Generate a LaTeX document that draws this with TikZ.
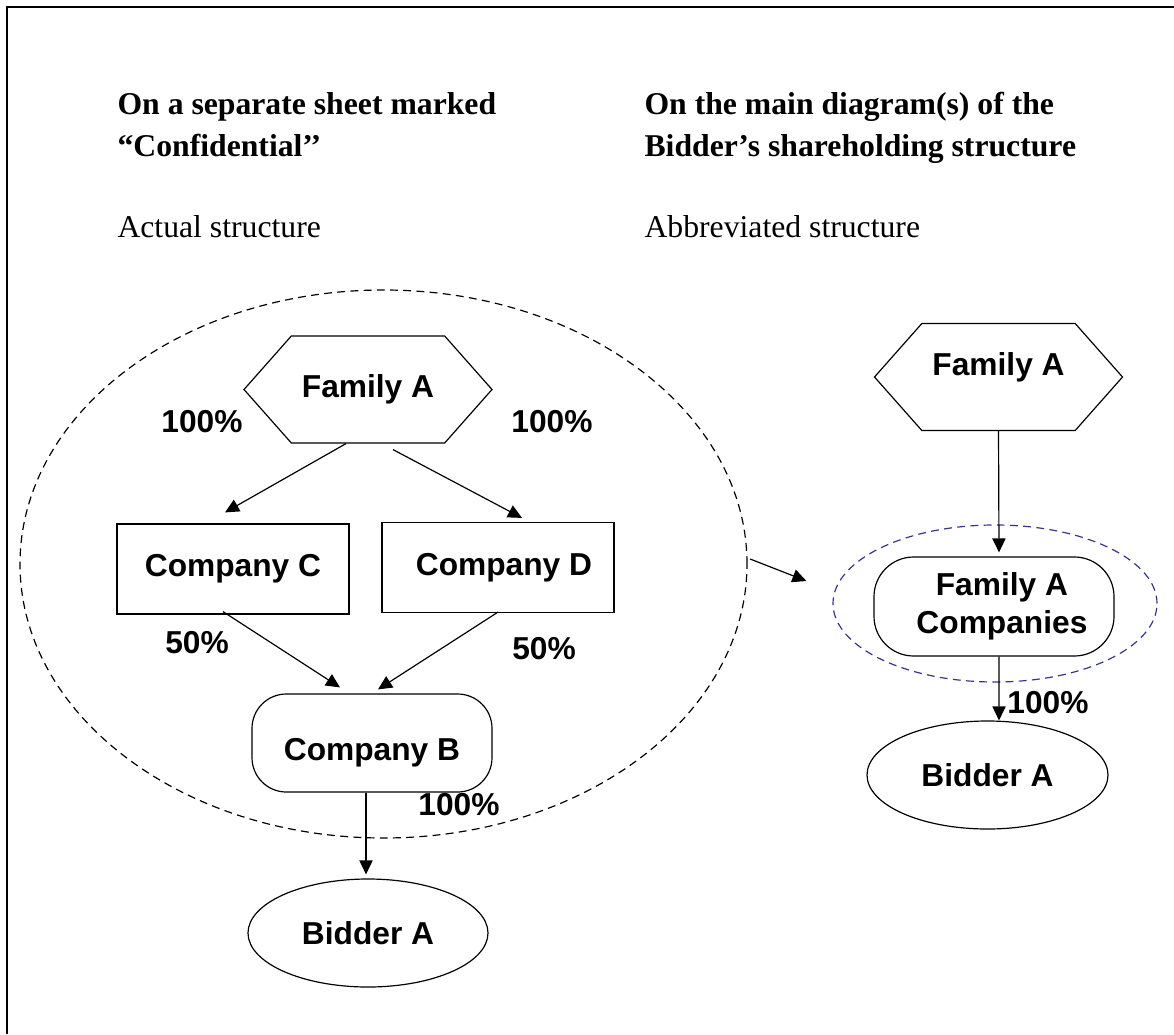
\documentclass[tikz,border=0pt,12pt]{standalone}
\usepackage{fontspec}
\setmainfont{Liberation Serif}
\setsansfont{Liberation Sans}
\usetikzlibrary{shapes,arrows.meta}
\def\pxu{0.3785pt}
\definecolor{OutlineBlue}{RGB}{51,51,153}
\tikzstyle{owner} = [signal, signal to=west and east, signal pointer angle=97, draw=black, line width=0.45pt, inner sep=0pt, minimum width=248*\pxu, minimum height=107*\pxu, font=\sffamily\bfseries]
\tikzstyle{company} = [rectangle, draw=black, line width=0.45pt, minimum width=232*\pxu, minimum height=90*\pxu, font=\sffamily\bfseries]
\tikzstyle{holding} = [rectangle, rounded corners=13pt, draw=black, line width=0.45pt, font=\sffamily\bfseries]
\tikzstyle{bidder} = [ellipse, draw=black, line width=0.45pt, inner sep=0pt, font=\sffamily\bfseries]
\tikzstyle{group} = [ellipse, draw=black, line width=0.45pt, dash pattern=on 3pt off 2pt, inner sep=0pt]
\tikzstyle{pct} = [font=\sffamily\bfseries, inner sep=0pt]
\tikzstyle{head} = [anchor=base west, inner sep=0pt, font=\bfseries]
\tikzstyle{sub} = [anchor=base west, inner sep=0pt]
\tikzstyle{link} = [line width=0.45pt, -{Triangle[length=5.3pt,width=5pt]}]

\begin{document}
\begin{tikzpicture}[x=\pxu,y=-\pxu]
                \useasboundingbox (0,0) rectangle (1174,1034);
                \draw[line width=0.75pt] (7,1034) -- (7,7) -- (1174,7);
                % column headings
                \node[head] (headL) at (117,115) {On a separate sheet marked};
                \node[head] (headLb) at (117,157) {“Confidential’{}’};
                \node[sub] (subL) at (117,237) {Actual structure};
                \node[head] (headR) at (644,115) {On the main diagram(s) of the};
                \node[head] (headRb) at (644,157) {Bidder’s shareholding structure};
                \node[sub] (subR) at (644,237) {Abbreviated structure};
                % actual structure
                \node[group, minimum width=727*\pxu, minimum height=548*\pxu] (grpL) at (383.5,564) {};
                \node[owner] (famL) at (368,389.5) {Family A};
                \node[company] (compC) at (233,569) {Company C};
                \node[company] (compD) at (498,567.5) {\hspace*{4.5pt}Company D};
                \node[holding, minimum width=240*\pxu, minimum height=98*\pxu, text height=15.6pt] (compB) at (372,743) {Company B};
                \node[bidder, minimum width=240*\pxu, minimum height=108*\pxu] (bidL) at (368,933) {Bidder A};
                \node[pct] (pctC) at (202,422) {100\%};
                \node[pct] (pctD) at (552,422) {100\%};
                \node[pct] (pctCB) at (197,643) {50\%};
                \node[pct] (pctDB) at (544,649) {50\%};
                \node[pct] (pctB) at (459,805) {100\%};
                \draw[link] ([xshift=-22*\pxu]famL.south) -- ([xshift=-8*\pxu,yshift=11*\pxu]compC.north);
                \draw[link] ([xshift=25*\pxu,yshift=-6*\pxu]famL.south) -- ([xshift=24*\pxu,yshift=4*\pxu]compD.north);
                \draw[link] ([xshift=-10*\pxu,yshift=3*\pxu]compC.south) -- ([xshift=-32*\pxu,yshift=6*\pxu]compB.north);
                \draw[link] ([yshift=1*\pxu]compD.south) -- ([xshift=6*\pxu,yshift=4*\pxu]compB.north);
                \draw[link] ([xshift=-6*\pxu]compB.south) -- ([xshift=-2*\pxu,yshift=4*\pxu]bidL.north);
                % abbreviated structure
                \node[group, draw=OutlineBlue, minimum width=324*\pxu, minimum height=157*\pxu] (grpR) at (995,603.5) {};
                \node[owner, text depth=9.7pt] (famR) at (998.5,377) {Family A};
                \node[holding, rounded corners=15pt, minimum width=240*\pxu, minimum height=99*\pxu, align=center] (famCo) at (994,606.5) {\hspace*{6pt}Family A\\\hspace*{6pt}Companies};
                \node[bidder, minimum width=241*\pxu, minimum height=108*\pxu] (bidR) at (987.5,775) {Bidder A};
                \node[pct] (pctR) at (1048,703) {100\%};
                \draw[link] (famR.south) -- ([xshift=5*\pxu,yshift=4*\pxu]famCo.north);
                \draw[link] ([xshift=5*\pxu]famCo.south) -- ([xshift=11.5*\pxu]bidR.north);
                \draw[link] ([xshift=2.5*\pxu,yshift=5*\pxu]grpL.east) -- ([xshift=-26*\pxu,yshift=22.5*\pxu]grpR.west);
\end{tikzpicture}
\end{document}
